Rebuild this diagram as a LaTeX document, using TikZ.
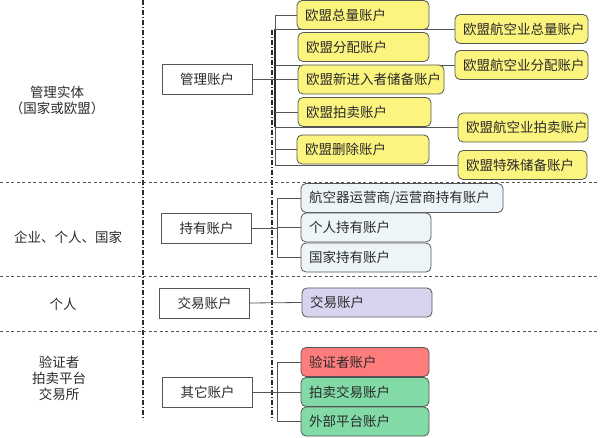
\documentclass[tikz,border=0pt]{standalone}
\usepackage{fontspec}
\setmainfont{Noto Sans CJK SC}
\usepackage{tikz}
\usetikzlibrary{positioning,backgrounds}
\definecolor{cyel}{HTML}{FBF47E}
\definecolor{cblu}{HTML}{EEF5F9}
\definecolor{cpur}{HTML}{D7D4F0}
\definecolor{cred}{HTML}{FF7C7C}
\definecolor{cgrn}{HTML}{82DBA7}
\definecolor{cline}{HTML}{555555}
\definecolor{ctext}{HTML}{2A2A2A}
\tikzset{
  acct/.style={draw=cline, rounded corners=5pt, align=left, inner xsep=8pt,
               minimum height=29pt, text=ctext, line width=0.8pt,
               font=\fontsize{13.5}{16}\selectfont},
  nyel/.style={acct, fill=cyel},
  nblu/.style={acct, fill=cblu},
  npur/.style={acct, fill=cpur},
  nred/.style={acct, fill=cred},
  ngrn/.style={acct, fill=cgrn},
  ncat/.style={draw=cline, fill=white, minimum width=90pt, minimum height=30pt,
               text=ctext, line width=0.8pt, font=\fontsize{13.5}{16}\selectfont},
  lab/.style={align=center, text=ctext, font=\fontsize{13.5}{16}\selectfont},
  link/.style={draw=cline, line width=0.8pt},
  rowsep/.style={draw=cline, line width=1pt, dash pattern=on 3pt off 2.5pt},
  colsep/.style={draw=ctext, line width=1.3pt, dash pattern=on 5pt off 2pt on 1pt off 2pt},
}
\begin{document}
\begin{tikzpicture}[x=1pt, y=-1pt]
  \useasboundingbox (0,0) rectangle (600,438);

  % left column: who owns the accounts
  \node[lab] (t1) at (57,100) {管理实体\\（国家或欧盟）};
  \node[lab] (t2) at (68,237) {企业、个人、国家};
  \node[lab] (t3) at (63,304) {个人};
  \node[lab] (t4) at (59,378) {验证者\\拍卖平台\\交易所};

  % account categories
  \node[ncat] (glz) at (207,79) {管理账户};
  \node[ncat] (cyz) at (206.5,228) {持有账户};
  \node[ncat] (jyz) at (204.5,303) {交易账户};
  \node[ncat] (qtz) at (207.5,392) {其它账户};

  % EU accounts
  \node[nyel, text width=116pt] (zl) at (363,15) {欧盟总量账户};
  \node[nyel, text width=115pt] (fp) at (363.5,47) {欧盟分配账户};
  \node[nyel, text width=130pt] (xjr) at (371,79.5) {欧盟新进入者储备账户};
  \node[nyel, text width=117pt] (pm) at (364.5,112) {欧盟拍卖账户};
  \node[nyel, text width=116pt] (sc) at (363,149.5) {欧盟删除账户};
  \node[nyel, text width=117pt] (hzl) at (521.5,29) {欧盟航空业总量账户};
  \node[nyel, text width=117pt] (hfp) at (521.5,65) {欧盟航空业分配账户};
  \node[nyel, text width=114pt] (hpm) at (523,127.5) {欧盟航空业拍卖账户};
  \node[nyel, text width=113pt] (tscb) at (522.5,165) {欧盟特殊储备账户};

  % holding accounts
  \node[nblu, text width=186pt] (hkc) at (402,198) {航空器运营商/运营商持有账户};
  \node[nblu, text width=114pt] (grc) at (366,227.5) {个人持有账户};
  \node[nblu, text width=114pt] (gjc) at (366,257.5) {国家持有账户};

  % trading / other accounts
  \node[npur, text width=114pt] (jy) at (367,302.5) {交易账户};
  \node[nred, text width=112pt] (yz) at (365,362) {验证者账户};
  \node[ngrn, text width=112pt] (pmjy) at (365,392) {拍卖交易账户};
  \node[ngrn, text width=112pt] (wjy) at (365,421.5) {外部平台账户};

  \coordinate (busA) at (275,79);
  \coordinate (busB) at (277,228);
  \coordinate (busD) at (277,392);

  \begin{scope}[on background layer]
    % dividers
    \draw[colsep] (143,0) -- (143,420);
    \draw[colsep] (272,30) -- (272,420);
    \draw[rowsep] (0,183) -- (600,183);
    \draw[rowsep] (0,277) -- (600,277);
    \draw[rowsep] (0,332) -- (600,332);

    % management accounts
    \draw[link] (glz.east) -- (busA);
    \draw[link] (busA |- zl.west) -- (busA |- tscb.west);
    \draw[link, line width=1.5pt, draw=ctext] (busA |- hzl.west) -- (busA |- hpm.west);
    \draw[link] (busA |- zl.west) -- (zl.west);
    \draw[link] (busA |- hzl.west) -- (hzl.west);
    \draw[link] (busA |- hfp.west) -- (hfp.west);
    \draw[link] (busA |- xjr.west) -- (xjr.west);
    \draw[link] (busA |- pm.west) -- (pm.west);
    \draw[link] (busA |- hpm.west) -- (hpm.west);
    \draw[link] (busA |- sc.west) -- (sc.west);
    \draw[link] (busA |- tscb.west) -- (tscb.west);

    % holding accounts
    \draw[link] (cyz.east) -- (busB);
    \draw[link] (busB |- hkc.west) -- (busB |- gjc.west);
    \draw[link] (busB |- hkc.west) -- (hkc.west);
    \draw[link] (busB |- grc.west) -- (grc.west);
    \draw[link] (busB |- gjc.west) -- (gjc.west);

    % trading account
    \draw[link] (jyz.east) -- (jy.west);

    % other accounts
    \draw[link] (qtz.east) -- (busD);
    \draw[link] (busD |- yz.west) -- (busD |- wjy.west);
    \draw[link] (busD |- yz.west) -- (yz.west);
    \draw[link] (busD |- pmjy.west) -- (pmjy.west);
    \draw[link] (busD |- wjy.west) -- (wjy.west);
  \end{scope}
\end{tikzpicture}
\end{document}
